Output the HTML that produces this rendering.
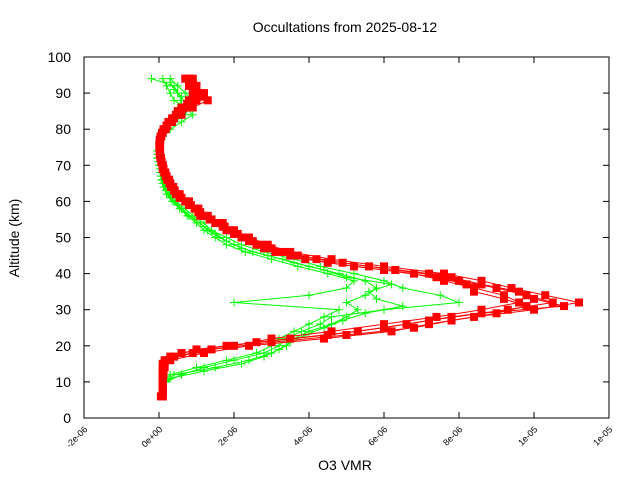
<!DOCTYPE html>
<html><head><meta charset="utf-8"><style>
body{margin:0;background:#fff;}
svg{display:block;font-family:"Liberation Sans",sans-serif;}
</style></head><body>
<svg id="chart" width="640" height="480" viewBox="0 0 640 480" xmlns="http://www.w3.org/2000/svg">
<text x="345" y="32" font-size="14" text-anchor="middle">Occultations from 2025-08-12</text>
<text transform="translate(19,238) rotate(-90)" font-size="14" text-anchor="middle">Altitude (km)</text>
<text x="345" y="470" font-size="14" text-anchor="middle">O3 VMR</text>
<g id="marks"></g>
<rect x="84" y="57" width="525" height="361" fill="none" stroke="#000" stroke-width="1"/>
<g id="axes"></g>
</svg>
<script>
const altitudes=[6,8,10,12,14,16,18,20,22,24,26,28,30,32,34,36,38,40,42,44,46,48,50,52,54,56,58,60,62,64,66,68,70,72,74,76,78,80,82,84,86,88,90,92,94];
const altitudesOdd=[7,9,11,13,15,17,19,21,23,25,27,29,31,33,35,37,39,41,43,45,47,49,51,53,55,57,59,61,63,65,67,69,71,73,75,77,79,81,83,85,87,89,91,93];
const red1=[0.1,0.1,0.1,0.1,0.1,0.15,0.6,1.8,3.5,5.3,6.6,7.8,9.3,10.5,9.8,9.0,8.0,7.2,5.6,4.2,3.3,2.7,2.3,1.9,1.6,1.2,1.0,0.75,0.5,0.35,0.25,0.15,0.1,0.05,0.02,0.02,0.05,0.15,0.3,0.5,0.7,1.0,1.1,0.9,0.8];
const red2=[0.05,0.1,0.1,0.1,0.15,0.3,1.2,2.4,4.4,6.2,7.2,8.4,10.0,11.2,10.3,9.4,8.6,7.6,6.0,4.6,3.5,2.9,2.4,2.0,1.7,1.3,1.05,0.8,0.55,0.38,0.27,0.17,0.1,0.05,0.03,0.01,0.04,0.12,0.25,0.6,0.9,1.3,1.2,1.0,0.7];
const red3=[0.1,0.1,0.1,0.12,0.12,0.2,0.9,2.0,3.0,4.6,6.0,7.4,8.6,9.6,9.2,8.4,7.6,6.8,5.2,3.9,3.1,2.6,2.2,1.8,1.5,1.1,0.95,0.7,0.45,0.32,0.22,0.14,0.09,0.04,0.02,0.03,0.06,0.18,0.35,0.45,0.6,0.8,0.9,0.8,0.9];
const red4=[0.1,0.1,0.1,0.1,0.1,0.3,1.0,2.6,4.5,6.0,7.2,8.6,10.8,10.0,9.6,8.6,7.8,6.3,4.9,3.7,3.0,2.5,2.1,1.75,1.4,1.1,0.85,0.6,0.42,0.3,0.2,0.12,0.07,0.03,0.02,0.03,0.1,0.22,0.4,0.6,0.85,1.2,1.0,0.9];
const red5=[0.1,0.1,0.1,0.1,0.15,0.4,1.4,3.0,5.0,6.8,7.8,9.0,9.8,9.2,8.4,8.2,7.4,6.0,4.5,3.5,2.8,2.4,2.0,1.7,1.35,1.05,0.8,0.55,0.4,0.28,0.18,0.1,0.06,0.02,0.01,0.02,0.08,0.2,0.35,0.5,0.75,1.0,0.95,0.85];
const green1=[0.1,0.1,0.15,0.4,1.5,2.4,3.0,3.4,3.6,4.0,4.6,5.0,5.3,5.0,5.5,5.8,5.5,4.8,4.0,3.3,2.5,2.0,1.6,1.3,1.1,0.8,0.6,0.4,0.25,0.15,0.08,0.04,0.01,-0.05,-0.05,0.0,0.05,0.15,0.3,0.4,0.5,0.6,0.5,0.4,-0.2];
const green2=[0.1,0.1,0.2,0.6,1.2,2.0,2.8,3.2,3.4,3.8,4.3,4.6,6.0,8.0,7.5,6.5,6.0,5.2,4.3,3.6,2.8,2.2,1.8,1.4,1.2,0.9,0.7,0.45,0.3,0.18,0.1,0.05,0.02,-0.02,-0.03,0.02,0.1,0.3,0.6,0.9,0.7,0.4,0.3,0.2,0.1];
const green3=[0.1,0.1,0.1,0.3,1.0,1.8,2.6,3.0,3.2,3.6,4.0,4.4,4.8,2.0,4.0,5.0,5.2,4.5,3.7,3.0,2.3,1.8,1.5,1.2,1.0,0.75,0.55,0.35,0.2,0.12,0.06,0.03,0.0,-0.04,-0.02,0.03,0.08,0.2,0.4,0.7,0.8,0.9,0.7,0.5,0.3];
const green4=[0.1,0.1,0.3,1.2,2.2,2.8,3.2,3.5,3.9,4.4,4.9,5.5,6.5,5.8,5.6,6.2,5.0,4.4,3.6,2.9,2.2,1.8,1.5,1.2,0.95,0.7,0.5,0.3,0.18,0.1,0.05,0.02,-0.02,-0.04,0.0,0.06,0.15,0.3,0.5,0.6,0.7,0.6,0.4,0.3];
const xTickValues=[-2,0,2,4,6,8,10,12];
const xTickLabels=["-2e-06","0e+00","2e-06","4e-06","6e-06","8e-06","1e-05","1e-05"];
const yTickValues=[0,10,20,30,40,50,60,70,80,90,100];

const NS="http://www.w3.org/2000/svg";
const X0=84,X1=609,Y0=418,Y1=57;
function xs(v){return X0+(v+2)/14*(X1-X0);}
function ys(a){return Y0-a/100*(Y0-Y1);}
const marks=document.getElementById('marks');
const axes=document.getElementById('axes');
function mk(tag,attrs,parent){const e=document.createElementNS(NS,tag);for(const k in attrs)e.setAttribute(k,attrs[k]);parent.appendChild(e);return e;}

function drawProfile(alts,vals,color,kind,name){
  const g=mk('g',{},marks);
  
  
  const pts=vals.map((v,i)=>xs(v).toFixed(1)+','+ys(alts[i]).toFixed(1)).join(' ');
  const pl=mk('polyline',{points:pts,fill:'none',stroke:color,'stroke-width':1},g);
  
  
  vals.forEach((v,i)=>{
    const x=xs(v),y=ys(alts[i]);
    let m;
    if(kind==='square'){
      m=mk('rect',{x:x-4,y:y-4,width:8,height:8,fill:color},g);
    }else{
      m=mk('path',{d:`M${x-4},${y}H${x+4}M${x},${y-4}V${y+4}`,stroke:color,'stroke-width':1,fill:'none'},g);
    }
    
    
  });
}
drawProfile(altitudes,green1,'#00ff00','cross','green-profile-1');
drawProfile(altitudes,green2,'#00ff00','cross','green-profile-2');
drawProfile(altitudes,green3,'#00ff00','cross','green-profile-3');
drawProfile(altitudesOdd,green4,'#00ff00','cross','green-profile-4');
drawProfile(altitudes,red1,'#ff0000','square','red-profile-1');
drawProfile(altitudes,red2,'#ff0000','square','red-profile-2');
drawProfile(altitudes,red3,'#ff0000','square','red-profile-3');
drawProfile(altitudesOdd,red4,'#ff0000','square','red-profile-4');
drawProfile(altitudesOdd,red5,'#ff0000','square','red-profile-5');

yTickValues.forEach(v=>{
  const y=ys(v);
  const t1=mk('line',{x1:X0,x2:X0+6,y1:y,y2:y,stroke:'#000'},axes);
  
  
  const t2=mk('line',{x1:X1-6,x2:X1,y1:y,y2:y,stroke:'#000'},axes);
  
  
  const tx=mk('text',{x:X0-13,y:y+5,'font-size':14,'text-anchor':'end'},axes);
  tx.textContent=v;
  
  
});
xTickValues.forEach((v,i)=>{
  const x=xs(v);
  const t1=mk('line',{x1:x,x2:x,y1:Y0,y2:Y0-6,stroke:'#000'},axes);
  
  
  const t2=mk('line',{x1:x,x2:x,y1:Y1,y2:Y1+6,stroke:'#000'},axes);
  
  
  const tx=mk('text',{transform:`translate(${x+4},${Y0+12}) rotate(-45)`,'font-size':9,'text-anchor':'end'},axes);
  tx.textContent=xTickLabels[i];
  
  
});
</script>
</body></html>
